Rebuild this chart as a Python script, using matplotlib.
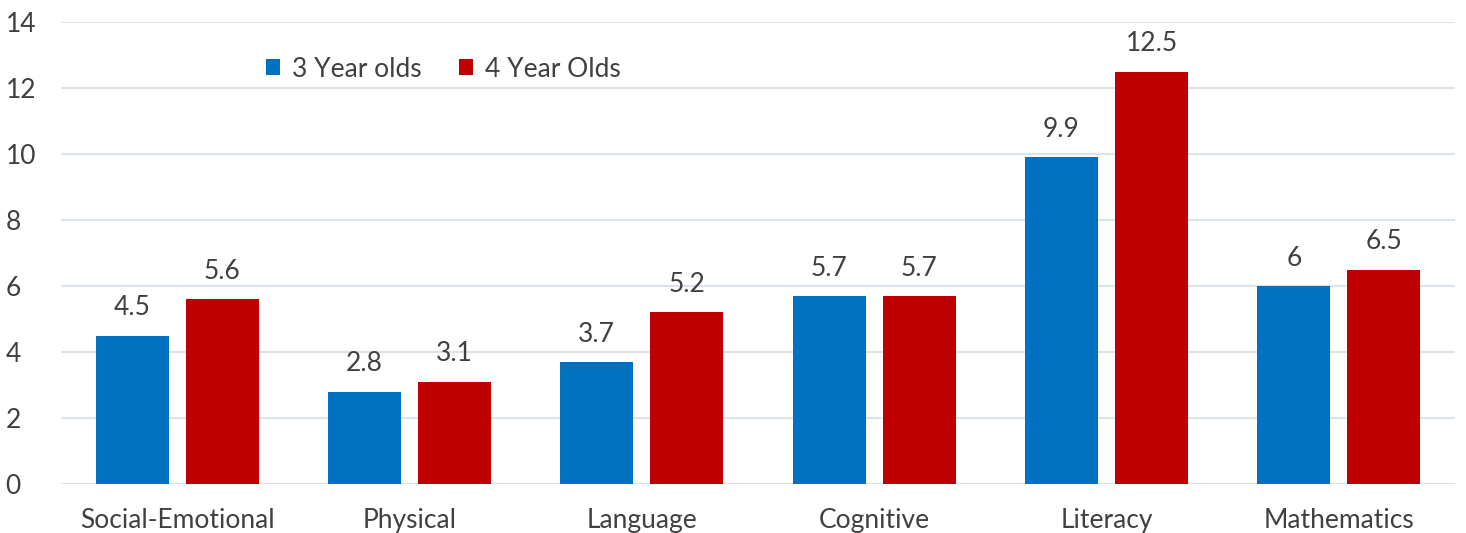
import matplotlib
matplotlib.use("Agg")
import matplotlib.pyplot as plt
import numpy as np

categories = ["Social-Emotional", "Physical", "Language", "Cognitive", "Literacy", "Mathematics"]
three_year = [4.5, 2.8, 3.7, 5.7, 9.9, 6]
four_year = [5.6, 3.1, 5.2, 5.7, 12.5, 6.5]
labels3 = ["4.5", "2.8", "3.7", "5.7", "9.9", "6"]
labels4 = ["5.6", "3.1", "5.2", "5.7", "12.5", "6.5"]
series_names = ["3 Year olds", "4 Year Olds"]

plt.rcParams['font.family'] = ['Lato', 'DejaVu Sans']
txt = '#404040'
fs = 19

fig = plt.figure(figsize=(14.66, 5.33), dpi=100)
ax = fig.add_axes([61/1466, 49/533, 1394/1466, 462/533])

x = np.arange(len(categories))
w = 0.314
off = 0.194
b1 = ax.bar(x - off, three_year, w, color='#0070C0', label=series_names[0], zorder=3)
b2 = ax.bar(x + off, four_year, w, color='#C00000', label=series_names[1], zorder=3)

for bars, labs in ((b1, labels3), (b2, labels4)):
    for r, l in zip(bars, labs):
        ax.annotate(l, (r.get_x() + r.get_width()/2, r.get_height()),
                    xytext=(0, 11), textcoords='offset points', ha='center', va='bottom',
                    fontsize=fs, color=txt)

ax.set_xlim(-0.5, len(categories) - 0.5)
ax.set_ylim(0, 14)
ax.set_yticks(range(0, 15, 2))
ax.set_xticks(x)
ax.set_xticklabels(categories)
ax.grid(axis='y', color='#dde3ea', linewidth=1.5, zorder=0)
for s in ax.spines.values():
    s.set_visible(False)
ax.tick_params(axis='both', length=0, labelsize=fs, labelcolor=txt)
ax.tick_params(axis='x', pad=17)
ax.tick_params(axis='y', pad=40)
for lbl in ax.get_yticklabels():
    lbl.set_horizontalalignment('left')

leg = ax.legend(loc='center left', bbox_to_anchor=(0.13, 0.898), ncol=2, frameon=False,
                fontsize=fs, handlelength=0.55, handleheight=0.55, handletextpad=0.45,
                columnspacing=1.4, labelcolor=txt)

fig.savefig('out.png', dpi=100)
